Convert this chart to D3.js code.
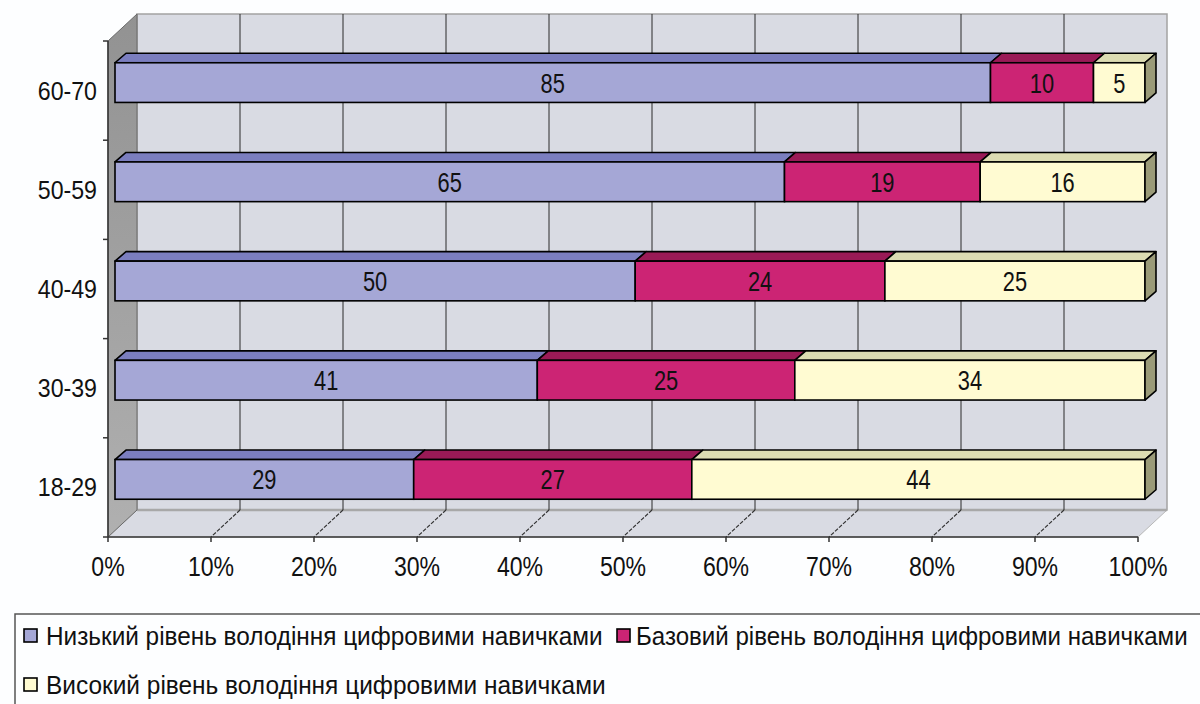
<!DOCTYPE html>
<html><head><meta charset="utf-8">
<script src="https://cdn.jsdelivr.net/npm/d3@7/dist/d3.min.js"></script>
<style>html,body{margin:0;padding:0;background:#fdfeff;}svg{display:block;font-family:"Liberation Sans",Arial,sans-serif;}</style>
</head><body>
<svg id="chart" width="1200" height="704"></svg>
<script>
const categories = ["60-70", "50-59", "40-49", "30-39", "18-29"];
const lowValues = [85, 65, 50, 41, 29];
const basicValues = [10, 19, 24, 25, 27];
const highValues = [5, 16, 25, 34, 44];
const seriesNames = [
  "Низький рівень володіння цифровими навичками",
  "Базовий рівень володіння цифровими навичками",
  "Високий рівень володіння цифровими навичками"
];
const tickValues = [0, 10, 20, 30, 40, 50, 60, 70, 80, 90, 100];

const svg = d3.select("#chart");
const front = {left: 108, right: 1138, top: 41, bottom: 537};
const D = {x: 29, y: -27};
const barOff = {x: 7, y: -8};
const barD = {x: 11, y: -9.5};

const x = d3.scaleLinear().domain([0, 100]).range([front.left, front.right]);
const y = d3.scaleBand().domain(categories).range([front.top, front.bottom]).paddingInner(0.6).paddingOuter(0.3);
const yStep = d3.scaleBand().domain(categories).range([front.top, front.bottom]);

const colors = {
  front: ["#a5a7d6", "#cc2474", "#fffbd2"],
  top: ["#7b7ebf", "#9a1a56", "#dcdcb2"],
  side: ["#6f72a8", "#8e1850", "#9a9a78"]
};

const poly = pts => pts.map(p => p.join(",")).join(" ");

const defs = svg.append("defs");
const lg = defs.append("linearGradient").attr("id", "wallL").attr("x1", 0).attr("y1", 0).attr("x2", 0).attr("y2", 1);
lg.append("stop").attr("offset", "0%").attr("stop-color", "#929292");
lg.append("stop").attr("offset", "100%").attr("stop-color", "#b0b0b0");

const bx0 = front.left + D.x, bx1 = front.right + D.x, by0 = front.top + D.y, by1 = front.bottom + D.y;
svg.append("rect").attr("x", bx0).attr("y", by0).attr("width", bx1 - bx0).attr("height", by1 - by0)
  .attr("fill", "#d9dbe3").attr("stroke", "#a3a3a3").attr("stroke-width", 1.5);
svg.append("polygon").attr("points", poly([[front.left, front.bottom], [bx0, by1], [bx1, by1], [front.right, front.bottom]]))
  .attr("fill", "#d9dbe3").attr("stroke", "#b8b8b8").attr("stroke-width", 1);
svg.append("line").attr("x1", bx0).attr("x2", bx1).attr("y1", by1).attr("y2", by1).attr("stroke", "#a8a8a8").attr("stroke-width", 2.5);
svg.append("polygon").attr("points", poly([[front.left, front.top], [bx0, by0], [bx0, by1], [front.left, front.bottom]]))
  .attr("fill", "url(#wallL)").attr("stroke", "#6a6a6a").attr("stroke-width", 1);

tickValues.slice(1, -1).forEach(t => {
  svg.append("line").attr("x1", x(t) + D.x).attr("x2", x(t) + D.x).attr("y1", by0).attr("y2", by1)
    .attr("stroke", "#2a2a2a").attr("stroke-width", 1);
  svg.append("line").attr("x1", x(t) + D.x).attr("y1", by1).attr("x2", x(t)).attr("y2", front.bottom)
    .attr("stroke", "#333").attr("stroke-width", 1.1).attr("stroke-dasharray", "4,1.5");
});

svg.append("line").attr("x1", front.left).attr("x2", front.left).attr("y1", front.top).attr("y2", front.bottom)
  .attr("stroke", "#333").attr("stroke-width", 1.5);
svg.append("line").attr("x1", front.left).attr("x2", front.right).attr("y1", front.bottom).attr("y2", front.bottom)
  .attr("stroke", "#333").attr("stroke-width", 1.5);
const yBounds = categories.map(c => yStep(c)).concat([front.bottom]);
yBounds.forEach(yy => svg.append("line").attr("x1", front.left - 5).attr("x2", front.left).attr("y1", yy).attr("y2", yy)
  .attr("stroke", "#333").attr("stroke-width", 1.5));
tickValues.forEach(t => svg.append("line").attr("x1", x(t)).attr("x2", x(t)).attr("y1", front.bottom).attr("y2", front.bottom + 5)
  .attr("stroke", "#333").attr("stroke-width", 1.5));

tickValues.forEach(t => {
  svg.append("text").attr("transform", `translate(${x(t)},576) scale(0.84,1)`)
    .attr("text-anchor", "middle").attr("font-size", 27.5).attr("fill", "#111").text(t + "%");
});
categories.forEach(c => {
  const cy = yStep(c) + yStep.bandwidth() / 2;
  svg.append("text").attr("transform", `translate(97,${cy + 9}) scale(0.89,1)`)
    .attr("text-anchor", "end").attr("font-size", 26).attr("fill", "#111").text(c);
});

const xb = v => x(v) + barOff.x;
categories.forEach((c, i) => {
  const vals = [lowValues[i], basicValues[i], highValues[i]];
  const total = d3.sum(vals);
  const y0 = y(c) + barOff.y, y1 = y0 + y.bandwidth();
  let cum = 0;
  const g = svg.append("g");
  vals.forEach((v, s) => {
    const a = cum / total * 100, b = (cum + v) / total * 100;
    cum += v;
    const xa = xb(a), xe = xb(b);
    g.append("polygon").attr("points", poly([[xa, y0], [xa + barD.x, y0 + barD.y], [xe + barD.x, y0 + barD.y], [xe, y0]]))
      .attr("fill", colors.top[s]).attr("stroke", "#000").attr("stroke-width", 1.6).attr("stroke-linejoin", "round");
    g.append("rect").attr("x", xa).attr("y", y0).attr("width", xe - xa).attr("height", y1 - y0)
      .attr("fill", colors.front[s]).attr("stroke", "#000").attr("stroke-width", 1.6);
    if (s === vals.length - 1) {
      g.append("polygon").attr("points", poly([[xe, y0], [xe + barD.x, y0 + barD.y], [xe + barD.x, y1 + barD.y], [xe, y1]]))
        .attr("fill", colors.side[s]).attr("stroke", "#000").attr("stroke-width", 1.6).attr("stroke-linejoin", "round");
    }
    g.append("text").attr("transform", `translate(${(xa + xe) / 2},${(y0 + y1) / 2 + 10}) scale(0.78,1)`)
      .attr("text-anchor", "middle").attr("font-size", 28).attr("fill", "#111").text(v);
  });
});

// legend frame: only top and left borders are visible in the picture
svg.append("path").attr("d", "M15,704 L15,614 L1200,614")
  .attr("fill", "none").attr("stroke", "#555").attr("stroke-width", 1.5);
const legendItems = [
  {name: seriesNames[0], s: 0, mx: 24, tx: 46, ty: 645, w: 557},
  {name: seriesNames[1], s: 1, mx: 617, tx: 636, ty: 645, w: 552},
  {name: seriesNames[2], s: 2, mx: 24, tx: 46, ty: 694, w: 560}
];
legendItems.forEach(it => {
  svg.append("rect").attr("x", it.mx).attr("y", it.ty - 16).attr("width", 13).attr("height", 13)
    .attr("fill", colors.front[it.s]).attr("stroke", "#000").attr("stroke-width", 1.6);
  const t = svg.append("text").attr("x", 0).attr("y", 0).attr("font-size", 26).attr("fill", "#111").text(it.name);
  const natural = t.node().getComputedTextLength();
  t.attr("transform", `translate(${it.tx},${it.ty}) scale(${it.w / natural},1)`);
});
</script>
</body></html>
